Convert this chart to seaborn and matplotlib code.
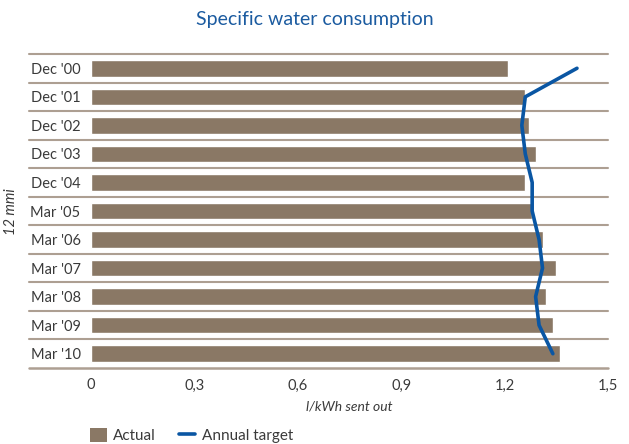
import numpy as np
import pandas as pd
import matplotlib
matplotlib.use("Agg")
import matplotlib.pyplot as plt
from matplotlib.patches import Patch
from matplotlib.lines import Line2D
import seaborn as sns

periods = ["Dec '00", "Dec '01", "Dec '02", "Dec '03", "Dec '04",
           "Mar '05", "Mar '06", "Mar '07", "Mar '08", "Mar '09", "Mar '10"]
actual = [1.21, 1.26, 1.27, 1.29, 1.26, 1.28, 1.31, 1.35, 1.32, 1.34, 1.36]
target = [1.41, 1.26, 1.25, 1.26, 1.28, 1.28, 1.30, 1.31, 1.29, 1.30, 1.34]
x_ticks = [0, 0.3, 0.6, 0.9, 1.2, 1.5]
x_tick_labels = ["0", "0,3", "0,6", "0,9", "1,2", "1,5"]

BROWN = "#8a7865"
BLUE = "#0a56a3"
RULE = "#ad9f92"
TEXT = "#3a3a3a"

sns.set_style("white")
plt.rcParams["font.family"] = ["Lato", "DejaVu Sans"]

df = pd.DataFrame({"period": periods, "actual": actual, "target": target,
                   "pos": np.arange(len(periods))})

fig = plt.figure(figsize=(6.29, 4.44), dpi=100)
ax = fig.add_axes([91 / 629, 1 - 368 / 444, 517 / 629, 314 / 444])

sns.barplot(data=df, x="actual", y="period", orient="h", color=BROWN,
            saturation=1, width=0.58, ax=ax)
sns.lineplot(data=df, x="target", y="pos", orient="y", sort=False,
             color=BLUE, linewidth=2.6, ax=ax)

ax.set_xlim(0, 1.5)
ax.set_ylim(len(periods) - 0.5, -0.5)

# horizontal rules between the rows, reaching into the label area
for yb in np.arange(-0.5, len(periods) - 0.5, 1.0):
    ax.plot([-0.12, 1.0], [yb, yb], transform=ax.get_yaxis_transform(),
            color=RULE, lw=1.5, clip_on=False, zorder=0)
ax.plot([-0.12, 1.0], [len(periods) - 0.5] * 2, transform=ax.get_yaxis_transform(),
        color=RULE, lw=1.8, clip_on=False, zorder=3)

for s in ax.spines.values():
    s.set_visible(False)

ax.set_xticks(x_ticks)
ax.set_xticklabels(x_tick_labels)
ax.tick_params(axis="x", direction="inout", length=7, width=1.2, color=RULE,
               labelsize=10.5, labelcolor=TEXT, pad=4)
ax.tick_params(axis="y", length=0, labelsize=10.5, labelcolor=TEXT, pad=7.5)

ax.set_xlabel("l/kWh sent out", fontstyle="italic", fontsize=10, color=TEXT, labelpad=6)
ax.set_ylabel("")
fig.text(11 / 629, 1 - 212 / 444, "12 mmi", rotation=90, fontstyle="italic",
         fontsize=10.5, color=TEXT, ha="center", va="center")

fig.text(0.5, 1 - 20 / 444, "Specific water consumption", ha="center", va="center",
         fontsize=14, color="#1b5ba0")

handles = [Patch(facecolor=BROWN, edgecolor="none"),
           Line2D([0], [0], color=BLUE, lw=2.6)]
fig.legend(handles, ["Actual", "Annual target"], loc="upper left",
           bbox_to_anchor=(90 / 629, 1 - 428 / 444), ncol=2, frameon=False,
           fontsize=11, handlelength=1.1, handleheight=1.0, columnspacing=1.5,
           handletextpad=0.4, labelcolor=TEXT, borderaxespad=0, borderpad=0)

fig.savefig("out.png", dpi=100)
